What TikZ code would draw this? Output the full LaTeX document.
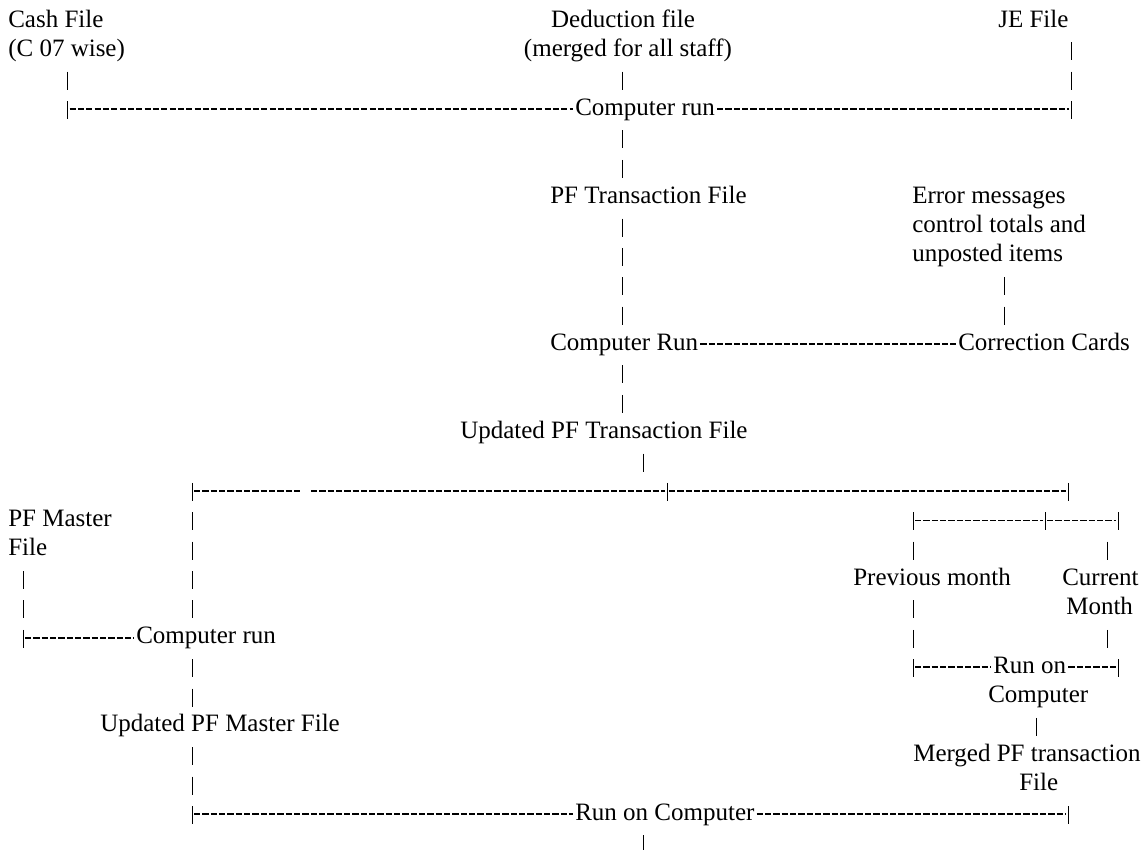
\documentclass[tikz,border=0pt]{standalone}
\usepackage{fontspec}
\setmainfont{Liberation Serif}

\begin{document}
\begin{tikzpicture}[x=0.75pt, y=-22.0275pt,
    lbl/.style={font=\rmfamily\fontsize{18.75}{22}\selectfont, inner sep=0pt, anchor=base west},
    lblc/.style={lbl, anchor=base},
    pipes/.style={line width=0.65pt, dash pattern=on 13.5pt off 8.5275pt, shorten <=11.5275pt, shorten >=19.0275pt},
    tick/.style={line width=0.65pt},
    bar/.style={line width=1.1pt, dash pattern=on 4.65pt off 1.6pt, shorten <=1.5pt, shorten >=1.5pt, transform canvas={yshift=4.5pt}}]
    \useasboundingbox (0,0.0807) rectangle (1148,28.988);

    % Columns and junctions
    \coordinate (colM) at (622,0);
    \coordinate (colN) at (643,0);
    \coordinate (colE) at (1004,0);
    \coordinate (colC) at (1107,0);
    \coordinate (colG) at (1036,0);
    \coordinate (jCash) at (67.5,4);
    \coordinate (jJE) at (1071,4);
    \coordinate (jL) at (192,17);
    \coordinate (gA) at (304,17);
    \coordinate (gB) at (309,17);
    \coordinate (jM) at (667,17);
    \coordinate (jR) at (1068,17);
    \coordinate (jP) at (913,18);
    \coordinate (jQ) at (1045,18);
    \coordinate (jS) at (1118,18);
    \coordinate (jPM) at (23,22);
    \coordinate (jP2) at (913,23);
    \coordinate (jS2) at (1118,23);
    \coordinate (jB) at (192,28);
    \coordinate (jBR) at (1068,28);
    \coordinate (endc) at (643,30);

    % Labels
    \node[lbl] (cash1) at (8,1) {Cash File};
    \node[lbl] (cash2) at (8,2) {(C 07 wise)};
    \node[lblc] (ded1) at (623,1) {Deduction file};
    \node[lblc] (ded2) at (628,2) {(merged for all staff)};
    \node[lbl] (je) at (998,1) {JE File};
    \node[lbl] (run1) at (575,4) {Computer run};
    \node[lbl] (pft) at (550,7) {PF Transaction File};
    \node[lbl] (err1) at (912,7) {Error messages};
    \node[lbl] (err2) at (912,8) {control totals and};
    \node[lbl] (err3) at (912,9) {unposted items};
    \node[lbl] (run2) at (550,12) {Computer Run};
    \node[lbl] (corr) at (958,12) {Correction Cards};
    \node[lbl] (upt) at (460,15) {Updated PF Transaction File};
    \node[lbl] (pfm1) at (8,18) {PF Master};
    \node[lbl] (pfm2) at (8,19) {File};
    \node[lbl] (prev) at (853,20) {Previous month};
    \node[lbl] (cur1) at (1062,20) {Current};
    \node[lbl] (cur2) at (1066,21) {Month};
    \node[lbl] (run3) at (136,22) {Computer run};
    \node[lbl] (run4) at (993,23) {Run on};
    \node[lbl] (comp) at (988,24) {Computer};
    \node[lbl] (upm) at (100,25) {Updated PF Master File};
    \node[lbl] (mrg1) at (913,26) {Merged PF transaction};
    \node[lbl] (mrg2) at (1019,27) {File};
    \node[lbl] (run5) at (575,28) {Run on Computer};

    % Vertical runs
    \draw[pipes] (cash2.base -| jCash) -- (jCash);
    \draw[pipes] (ded2.base -| colM) -- (run1.base -| colM);
    \draw[pipes] (je.base -| jJE) -- (jJE);
    \draw[pipes] (run1.base -| colM) -- (pft.base -| colM);
    \draw[pipes] (pft.base -| colM) -- (run2.base -| colM);
    \draw[pipes] (err3.base -| colE) -- (corr.base -| colE);
    \draw[pipes] (run2.base -| colM) -- (upt.base -| colM);
    \draw[pipes] (upt.base -| colN) -- (colN |- jL);
    \draw[pipes] (jL) -- (jL |- run3.base);
    \draw[pipes] (pfm2.base -| jPM) -- (jPM);
    \draw[pipes] (run3.base -| jL) -- (upm.base -| jL);
    \draw[pipes] (upm.base -| jB) -- (jB);
    \draw[pipes] (jP) -- (prev.base -| jP);
    \draw[pipes] (colC |- jP) -- (colC |- cur1.base);
    \draw[pipes] (prev.base -| jP) -- (jP2);
    \draw[pipes] (colC |- cur2.base) -- (colC |- jS2);
    \draw[pipes] (comp.base -| colG) -- (mrg1.base -| colG);
    \draw[pipes] (run5.base -| colN) -- (endc);

    % Junction ticks
    \foreach \j in {jCash, jJE, jL, jM, jR, jP, jQ, jS, jPM, jP2, jS2, jB, jBR}
        \draw[tick] (\j) +(0pt,10.5pt) -- +(0pt,-3pt);

    % Dashed bars
    \draw[bar] (jCash) -- (run1.base west);
    \draw[bar] (run1.base east) -- (jJE);
    \draw[bar] (run2.base east) -- (corr.base west);
    \draw[bar] (jL) -- (gA);
    \draw[bar] (gB) -- (jM);
    \draw[bar] (jM) -- (jR);
    \draw[bar] (jP) -- (jQ);
    \draw[bar] (jQ) -- (jS);
    \draw[bar] (jPM) -- (run3.base west);
    \draw[bar] (jP2) -- (run4.base west);
    \draw[bar] (run4.base east) -- (jS2);
    \draw[bar] (jB) -- (run5.base west);
    \draw[bar] (run5.base east) -- (jBR);
\end{tikzpicture}
\end{document}
